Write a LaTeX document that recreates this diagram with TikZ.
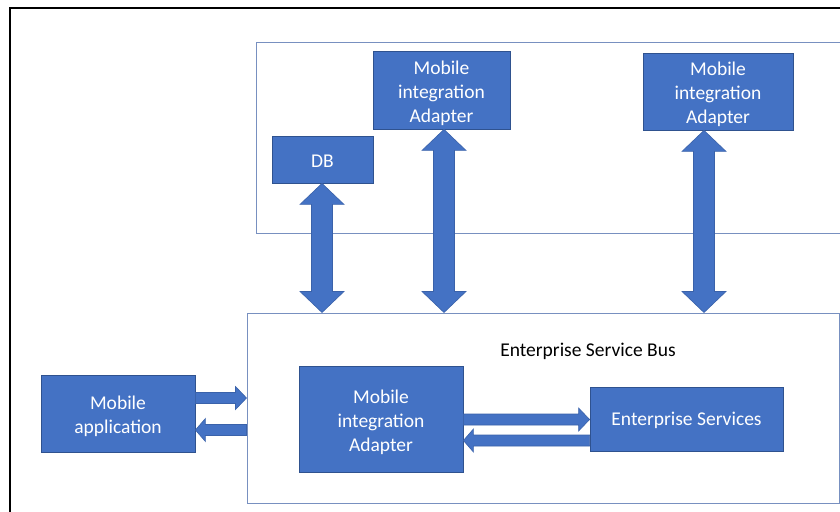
\documentclass[tikz,border=0pt]{standalone}
\usepackage{fontspec}
\setmainfont{Carlito}
\usetikzlibrary{calc}
\definecolor{boxblue}{HTML}{4472C4}
\definecolor{boxborder}{HTML}{2F528F}
\definecolor{contborder}{HTML}{7890C0}
\definecolor{arrowborder}{HTML}{3A62AA}
\newcommand{\toppad}{\rule{0pt}{19.5pt}}
\newcommand{\smallpad}{\rule{0pt}{16pt}}
\tikzset{
  bluebox/.style={draw=boxborder, line width=0.8pt, fill=boxblue, text=white, align=center,
    inner sep=0pt, font=\fontsize{19.5}{24}\selectfont},
  container/.style={draw=contborder, line width=1pt, fill=none},
  fatarrow/.style={fill=boxblue, draw=arrowborder, line width=0.6pt, line join=miter},
  plainlabel/.style={text=black, inner sep=0pt, font=\fontsize{19.5}{24}\selectfont}
}
% vertical double arrow between top tip #1 and bottom tip #2
\newcommand{\vdarrow}[2]{%
  \draw[fatarrow] (#1) -- ($(#1)+(22,21)$) -- ($(#1)+(10.5,21)$) -- ($(#2)+(10.5,-21)$)
    -- ($(#2)+(22,-21)$) -- (#2) -- ($(#2)+(-22,-21)$) -- ($(#2)+(-10.5,-21)$)
    -- ($(#1)+(-10.5,21)$) -- ($(#1)+(-22,21)$) -- cycle;}
% horizontal single arrow from tail #1 to tip #2, #3 = signed head length (negative: points right)
\newcommand{\hsarrow}[3]{%
  \draw[fatarrow] ($(#1)+(0,-5.5)$) -- ($(#2)+(#3,-5.5)$) -- ($(#2)+(#3,-11.5)$) -- (#2)
    -- ($(#2)+(#3,11.5)$) -- ($(#2)+(#3,5.5)$) -- ($(#1)+(0,5.5)$) -- cycle;}
\begin{document}
\begin{tikzpicture}[x=1pt,y=-1pt]
\useasboundingbox (0,0) rectangle (840,511);
\clip (0,0) rectangle (840,511);
\fill[white] (0,0) rectangle (840,511);
% outer frame
\draw[black, line width=2pt] (10,520) -- (10,8.3) -- (850,8.3);
% containers
\draw[container] (256,43) rectangle (850,233);
\node[container, minimum width=592pt, minimum height=190pt, inner sep=0pt] (esb) at (543,408) {};
\node[plainlabel] (esblabel) at (588,351) {Enterprise Service Bus};
% boxes
\node[bluebox, minimum width=101pt, minimum height=47pt] (db) at (322.5,159.5) {\smallpad DB};
\node[bluebox, minimum width=137pt, minimum height=78pt] (mia1) at (441.5,90) {\toppad Mobile\\integration\\Adapter};
\node[bluebox, minimum width=150pt, minimum height=77pt] (mia2) at (718,91.5) {\toppad Mobile\\integration\\Adapter};
\node[bluebox, minimum width=154pt, minimum height=77pt] (app) at (118,413.5) {\toppad Mobile\\application};
\node[bluebox, minimum width=164pt, minimum height=106pt] (mia3) at (381,419) {\toppad Mobile\\integration\\Adapter};
\node[bluebox, minimum width=193pt, minimum height=64pt] (es) at (686.5,419) {\smallpad Enterprise Services};
% vertical double arrows
\coordinate (dbT) at ($(db.south)+(-0.5,0)$);
\coordinate (dbB) at (dbT |- esb.north);
\vdarrow{dbT}{dbB}
\coordinate (m1T) at ($(mia1.south)+(2.5,0)$);
\coordinate (m1B) at (m1T |- esb.north);
\vdarrow{m1T}{m1B}
\coordinate (m2T) at ($(mia2.south)+(-14,0)$);
\coordinate (m2B) at (m2T |- esb.north);
\vdarrow{m2T}{m2B}
% app <-> esb
\coordinate (a1S) at ($(app.east)+(0,-15.5)$);
\coordinate (a1T) at (esb.west |- a1S);
\hsarrow{a1S}{a1T}{-11}
\coordinate (a2S) at ($(esb.west)+(0,22)$);
\coordinate (a2T) at (app.east |- a2S);
\hsarrow{a2S}{a2T}{10}
% mia3 <-> es
\coordinate (b1S) at ($(mia3.east)+(0,0.5)$);
\coordinate (b1T) at (es.west |- b1S);
\hsarrow{b1S}{b1T}{-11}
\coordinate (b2S) at ($(es.west)+(0,21.5)$);
\coordinate (b2T) at (mia3.east |- b2S);
\hsarrow{b2S}{b2T}{10}
\end{tikzpicture}
\end{document}
